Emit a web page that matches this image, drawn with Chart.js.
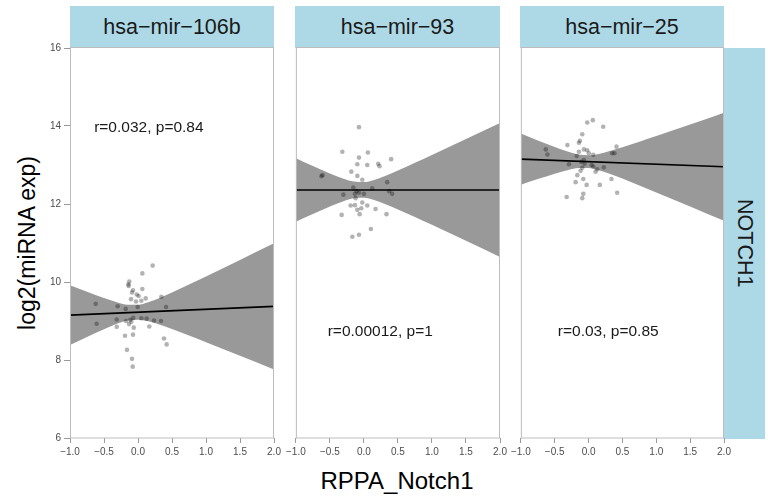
<!DOCTYPE html>
<html>
<head>
<meta charset="utf-8">
<script src="https://cdn.jsdelivr.net/npm/chart.js@4.4.1/dist/chart.umd.min.js"></script>
<style>
  body { margin:0; width:768px; height:497px; position:relative; background:#fff; overflow:hidden;
         font-family:'Liberation Sans', Arial, Helvetica, sans-serif; }
  canvas { position:absolute; }
  .strip { position:absolute; background:#ADD8E6; color:#1a1a1a; text-align:center; font-size:21.5px; }
  .title { position:absolute; color:#000; white-space:nowrap; transform-origin:center center; }
</style>
</head>
<body>
<div class="strip" style="left:70px;top:6px;width:204px;height:42px;line-height:42px;" id="s1"></div>
<div class="strip" style="left:295px;top:6px;width:205px;height:42px;line-height:42px;" id="s2"></div>
<div class="strip" style="left:520px;top:6px;width:204px;height:42px;line-height:42px;" id="s3"></div>
<div class="strip" style="left:724px;top:48px;width:41px;height:391px;display:flex;align-items:center;justify-content:center;" id="srow"><span style="writing-mode:vertical-rl;"></span></div>
<div class="title" id="ytitle" style="left:27px;top:243px;font-size:23px;transform:translate(-50%,-50%) rotate(-90deg);"></div>
<div class="title" id="xtitle" style="left:397px;top:481px;font-size:24px;transform:translate(-50%,-50%);"></div>
<canvas id="c1" width="284" height="422" style="left:0px;top:38px;"></canvas>
<canvas id="c2" width="229" height="422" style="left:283px;top:38px;"></canvas>
<canvas id="c3" width="228" height="422" style="left:508px;top:38px;"></canvas>
<script>
// ---------- data ----------
const panelNames = ['hsa\u2212mir\u2212106b', 'hsa\u2212mir\u221293', 'hsa\u2212mir\u221225'];
const rowName = 'NOTCH1';
const xTitle = 'RPPA_Notch1';
const yTitle = 'log2(miRNA exp)';
const xTicks = [-1, -0.5, 0, 0.5, 1, 1.5, 2];
const yTicks = [6, 8, 10, 12, 14, 16];

const pts1X = [0.216, 0.064, -0.128, -0.142, -0.137, -0.074, -0.088, 0.064, -0.019, 0.010, 0.113, -0.103, -0.029, 0.049, 0.343, -0.622, -0.299, -0.181, -0.004, 0.412, -0.608, -0.313, -0.176, -0.113, -0.069, 0.049, 0.127, 0.235, 0.338, -0.313, -0.132, -0.063, 0.166, -0.191, -0.074, 0.382, 0.422, -0.162, -0.088, -0.078, -0.098];
const pts1Y = [10.42, 10.22, 10.01, 9.94, 9.90, 9.79, 9.73, 9.82, 9.68, 9.64, 9.58, 9.56, 9.50, 9.52, 9.62, 9.44, 9.38, 9.31, 9.36, 9.36, 8.93, 9.04, 9.00, 9.03, 9.08, 9.07, 9.06, 9.01, 9.00, 8.85, 8.92, 8.83, 8.86, 8.62, 8.65, 8.55, 8.40, 8.26, 8.03, 7.83, 8.98];

const pts2X = [-0.073, -0.317, 0.058, -0.073, 0.400, -0.097, 0.049, 0.210, 0.229, -0.185, -0.097, -0.024, -0.609, -0.624, 0.342, -0.156, 0.122, 0.371, 0.415, -0.302, -0.132, -0.073, 0.000, -0.122, -0.195, -0.132, -0.024, 0.049, -0.097, -0.039, 0.171, -0.327, -0.063, 0.332, 0.102, -0.073, -0.170, -0.107];
const pts2Y = [13.97, 13.34, 13.32, 13.19, 13.15, 13.02, 13.00, 13.03, 12.97, 12.83, 12.72, 12.62, 12.74, 12.71, 12.56, 12.42, 12.40, 12.33, 12.26, 12.24, 12.26, 12.29, 12.26, 12.15, 11.96, 11.97, 12.04, 11.96, 11.85, 11.89, 11.87, 11.72, 11.74, 11.74, 11.36, 11.21, 11.16, 12.33];

const pts3X = [0.063, -0.020, 0.216, -0.093, -0.128, -0.143, -0.313, 0.412, -0.632, -0.608, -0.069, -0.020, 0.004, -0.143, 0.348, 0.382, 0.069, -0.176, -0.069, -0.107, -0.290, -0.059, 0.044, 0.069, 0.225, 0.128, -0.093, -0.118, 0.103, -0.166, -0.078, 0.338, -0.191, -0.029, 0.166, 0.422, -0.078, -0.324, -0.093];
const pts3Y = [14.15, 14.09, 13.98, 13.79, 13.62, 13.57, 13.51, 13.47, 13.40, 13.27, 13.40, 13.38, 13.30, 13.34, 13.30, 13.30, 13.26, 13.23, 13.13, 13.08, 13.02, 13.03, 13.00, 12.96, 12.94, 12.89, 12.93, 12.85, 12.83, 12.74, 12.64, 12.64, 12.56, 12.49, 12.49, 12.29, 12.26, 12.18, 12.15];

const fitX = [-1, 2];
const fit1 = [9.150, 9.375];
const fit2 = [12.360, 12.360];
const fit3 = [13.150, 12.955];

const bandX = [-1, -0.75, -0.5, -0.3, -0.15, 0, 0.15, 0.3, 0.5, 0.75, 1, 1.5, 2];
const band1Upper = [9.917, 9.748, 9.587, 9.473, 9.416, 9.415, 9.479, 9.579, 9.732, 9.936, 10.144, 10.567, 10.993];
const band1Lower = [8.383, 8.590, 8.789, 8.933, 9.012, 9.035, 8.993, 8.917, 8.794, 8.626, 8.456, 8.109, 7.757];
const band2Upper = [13.174, 12.975, 12.783, 12.647, 12.574, 12.562, 12.618, 12.712, 12.858, 13.055, 13.255, 13.664, 14.077];
const band2Lower = [11.546, 11.745, 11.937, 12.073, 12.146, 12.158, 12.102, 12.008, 11.862, 11.665, 11.465, 11.056, 10.643];
const band3Upper = [13.808, 13.630, 13.460, 13.337, 13.268, 13.248, 13.283, 13.350, 13.455, 13.597, 13.743, 14.041, 14.342];
const band3Lower = [12.492, 12.638, 12.776, 12.873, 12.922, 12.922, 12.867, 12.782, 12.651, 12.475, 12.297, 11.935, 11.568];

const annoText = ['r=0.032, p=0.84', 'r=0.00012, p=1', 'r=0.03, p=0.85'];
const annoX = [0.16, 0.24, 0.29];
const annoY = [13.95, 8.72, 8.72];

// ---------- page text ----------
document.getElementById('s1').textContent = panelNames[0];
document.getElementById('s2').textContent = panelNames[1];
document.getElementById('s3').textContent = panelNames[2];
document.querySelector('#srow span').textContent = rowName;
document.getElementById('xtitle').textContent = xTitle;
document.getElementById('ytitle').textContent = yTitle;

const FONT = "'Liberation Sans', Arial, Helvetica, sans-serif";
const zip = (xs, ys) => xs.map((x, k) => ({ x: x, y: ys[k] }));
const fmt = v => (v < 0 ? '\u2212' : '') + Math.abs(v).toFixed(1);

const panelPlugin = {
  id: 'panelDecor',
  afterDatasetsDraw(chart, args, opts) {
    const { ctx, chartArea: a, scales } = chart;
    ctx.save();
    ctx.strokeStyle = '#bdbdbd';
    ctx.lineWidth = 1;
    ctx.strokeRect(a.left + 0.5, a.top - 0.5, a.right - a.left - 1, a.bottom - a.top + 0.5);
    ctx.fillStyle = '#1a1a1a';
    ctx.font = '15.5px ' + FONT;
    ctx.textAlign = 'center';
    ctx.textBaseline = 'middle';
    ctx.fillText(opts.text, scales.x.getPixelForValue(opts.ax), scales.y.getPixelForValue(opts.ay));
    ctx.restore();
  }
};

function makeChart(id, i, pts, fit, up, lo, showY, pad) {
  new Chart(document.getElementById(id), {
    data: {
      datasets: [
        { type: 'scatter', data: pts, pointRadius: 2.3, pointHoverRadius: 2.3, backgroundColor: 'rgba(0,0,0,0.3)', borderWidth: 0, order: 0 },
        { type: 'line', data: zip(fitX, fit), borderColor: '#000', borderWidth: 1.6, pointRadius: 0, fill: false, order: 1 },
        { type: 'line', data: zip(bandX, up), borderWidth: 0, borderColor: 'rgba(0,0,0,0)', pointRadius: 0, cubicInterpolationMode: 'monotone', backgroundColor: '#999999', fill: '+1', order: 2 },
        { type: 'line', data: zip(bandX, lo), borderWidth: 0, borderColor: 'rgba(0,0,0,0)', pointRadius: 0, cubicInterpolationMode: 'monotone', fill: false, order: 3 }
      ]
    },
    options: {
      responsive: false, animation: false, events: [],
      layout: { padding: pad },
      plugins: { legend: { display: false }, tooltip: { enabled: false }, panelDecor: { text: annoText[i], ax: annoX[i], ay: annoY[i] } },
      scales: {
        x: {
          type: 'linear', min: -1, max: 2,
          afterBuildTicks: s => { s.ticks = xTicks.map(v => ({ value: v })); },
          afterFit: s => { s.height = 22; },
          border: { display: false },
          grid: { drawOnChartArea: false, drawTicks: true, tickLength: 5, color: '#9a9a9a' },
          ticks: { callback: v => fmt(v), color: '#4d4d4d', font: { family: FONT, size: 10 }, padding: 3, maxRotation: 0, autoSkip: false }
        },
        y: {
          type: 'linear', min: 6, max: 16,
          afterBuildTicks: s => { s.ticks = yTicks.map(v => ({ value: v })); },
          afterFit: s => { s.width = showY ? 70 : 0; },
          border: { display: false },
          grid: { drawOnChartArea: false, drawTicks: showY, tickLength: 6, color: '#9a9a9a' },
          ticks: { display: showY, callback: v => String(v), color: '#4d4d4d', font: { family: FONT, size: 10 }, padding: 3 }
        }
      }
    },
    plugins: [panelPlugin]
  });
}

makeChart('c1', 0, zip(pts1X, pts1Y), fit1, band1Upper, band1Lower, true, { left: 0, right: 10, top: 10, bottom: 0 });
makeChart('c2', 1, zip(pts2X, pts2Y), fit2, band2Upper, band2Lower, false, { left: 12, right: 12, top: 10, bottom: 0 });
makeChart('c3', 2, zip(pts3X, pts3Y), fit3, band3Upper, band3Lower, false, { left: 12, right: 12, top: 10, bottom: 0 });
</script>
</body>
</html>
